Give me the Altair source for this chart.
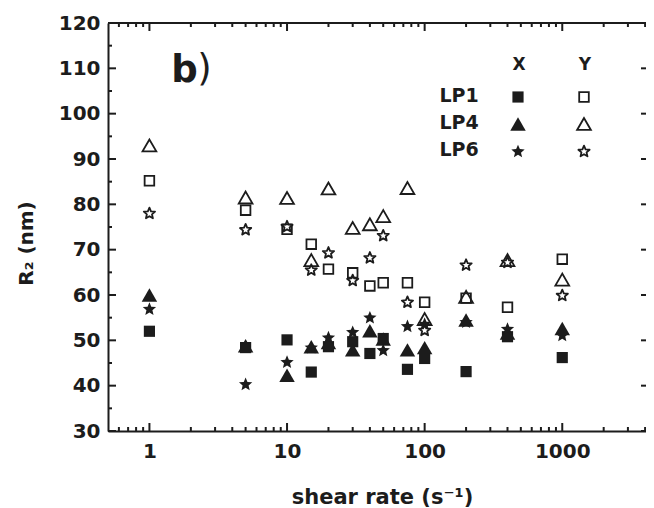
import altair as alt
import pandas as pd

# ---------------- data ----------------
rates = [1, 5, 10, 15, 20, 30, 40, 50, 75, 100, 200, 400, 1000]
samples = ["LP1", "LP4", "LP6"]
directions = ["X", "Y"]

lp1_x = [52.0, 48.4, 50.1, 43.0, 48.6, 49.7, 47.1, 50.4, 43.6, 46.0, 43.1, 50.8, 46.2]
lp1_y = [85.2, 78.7, 74.5, 71.2, 65.7, 64.9, 62.0, 62.7, 62.7, 58.4, 59.3, 57.3, 67.9]
lp4_x = [60.0, 48.8, 42.3, 48.6, 49.5, 47.9, 52.1, 50.3, 47.9, 48.4, 54.5, 51.6, 52.6]
lp4_y = [93.0, 81.5, 81.4, 67.7, 83.5, 74.8, 75.6, 77.4, 83.6, 54.7, 59.6, 67.7, 63.4]
lp6_x = [57.0, 40.4, 45.3, 48.5, 50.7, 51.9, 55.1, 47.9, 53.2, 53.7, 54.1, 52.6, 51.2]
lp6_y = [78.1, 74.5, 75.2, 65.6, 69.4, 63.3, 68.3, 73.2, 58.5, 52.3, 66.7, 67.3, 60.0]

x_major = [1, 10, 100, 1000]
x_minor = [0.6, 0.7, 0.8, 0.9, 2, 3, 4, 5, 6, 7, 8, 9, 20, 30, 40, 50, 60, 70, 80, 90,
           200, 300, 400, 500, 600, 700, 800, 900, 2000, 3000, 4000]
y_major = [30, 40, 50, 60, 70, 80, 90, 100, 110, 120]
y_minor = [35, 45, 55, 65, 75, 85, 95, 105, 115]
panel_label = ["b", ")"]

series = {
    ("LP1", "X"): lp1_x, ("LP1", "Y"): lp1_y,
    ("LP4", "X"): lp4_x, ("LP4", "Y"): lp4_y,
    ("LP6", "X"): lp6_x, ("LP6", "Y"): lp6_y,
}
rows = []
for (s, d), vals in series.items():
    for r, v in zip(rates, vals):
        rows.append({"rate": r, "R2": v, "sample": s, "dir": d})
df = pd.DataFrame(rows)

# ---------------- styling ----------------
W, H = 538, 408
INK = "#1c1c1c"
FONT = "DejaVu Sans"
STAR = ("M0,-0.9045L0.2645,-0.2685L0.951,-0.2135L0.428,0.2345L0.588,0.9045L0,0.5455"
        "L-0.588,0.9045L-0.428,0.2345L-0.951,-0.2135L-0.2645,-0.2685Z")
shape_of = {"LP1": "square", "LP4": "triangle-up", "LP6": STAR}
size_filled = {"LP1": 125, "LP4": 240, "LP6": 196}
size_open = {"LP1": 92, "LP4": 190, "LP6": 140}

xs = alt.Scale(type="log", domain=[0.5, 4060], nice=False)
ys = alt.Scale(domain=[30, 120], nice=False, zero=False)

xaxis = alt.Axis(values=x_major, format="d", ticks=False, tickSize=0, grid=False,
                 domain=True, domainColor=INK, domainWidth=2,
                 labelFont=FONT, labelFontWeight="bold", labelFontSize=20,
                 labelColor=INK, labelPadding=10,
                 title="shear rate (s⁻¹)", titleFont=FONT, titleFontWeight="bold",
                 titleFontSize=21, titleColor=INK, titleY=72, titleX=274,
                 titleBaseline="alphabetic")
yaxis = alt.Axis(values=y_major, ticks=False, tickSize=0, grid=False,
                 domain=True, domainColor=INK, domainWidth=2,
                 labelFont=FONT, labelFontWeight="bold", labelFontSize=20,
                 labelColor=INK, labelPadding=8,
                 title="R₂ (nm)", titleFont=FONT, titleFontWeight="bold",
                 titleFontSize=20, titleColor=INK, titleAngle=270,
                 titleX=-82, titleY=220, titleAlign="center",
                 titleBaseline="middle")


def X(field):
    return alt.X(f"{field}:Q", scale=xs, axis=xaxis)


def Y(field):
    return alt.Y(f"{field}:Q", scale=ys, axis=yaxis)


layers = []

# data points
for s in samples:
    for d in directions:
        filled = d == "X"
        base = alt.Chart(df).transform_filter(
            (alt.datum.sample == s) & (alt.datum.dir == d))
        if filled:
            m = base.mark_point(shape=shape_of[s], filled=True, fill=INK,
                                size=size_filled[s], opacity=1, strokeWidth=0)
        else:
            m = base.mark_point(shape=shape_of[s], filled=False, stroke=INK,
                                size=size_open[s], opacity=1, strokeWidth=1.8,
                                strokeJoin="round" if s == "LP6" else "miter")
        layers.append(m.encode(x=X("rate"), y=Y("R2")))

# inward axis ticks (bottom / top / left / right)
xmaj = pd.DataFrame({"t": x_major})
xmin = pd.DataFrame({"t": x_minor})
ymaj = pd.DataFrame({"t": y_major})
ymin = pd.DataFrame({"t": y_minor})
tick = dict(color=INK, strokeWidth=2)
layers += [
    alt.Chart(xmaj).mark_rule(**tick).encode(x=X("t"), y=alt.value(H), y2=alt.value(H - 8)),
    alt.Chart(xmin).mark_rule(**tick).encode(x=X("t"), y=alt.value(H), y2=alt.value(H - 4)),
    alt.Chart(xmaj).mark_rule(**tick).encode(x=X("t"), y=alt.value(0), y2=alt.value(8)),
    alt.Chart(xmin).mark_rule(**tick).encode(x=X("t"), y=alt.value(0), y2=alt.value(4)),
    alt.Chart(ymaj).mark_rule(**tick).encode(y=Y("t"), x=alt.value(0), x2=alt.value(8)),
    alt.Chart(ymin).mark_rule(**tick).encode(y=Y("t"), x=alt.value(0), x2=alt.value(4)),
    alt.Chart(ymaj).mark_rule(**tick).encode(y=Y("t"), x=alt.value(W - 5), x2=alt.value(W)),
    # top frame line
    alt.Chart(pd.DataFrame({"t": [0]})).mark_rule(**tick).encode(
        x=alt.value(0), x2=alt.value(W), y=alt.value(0)),
]

# panel label "b)"
layers.append(alt.Chart(pd.DataFrame({"t": [panel_label[0]]})).mark_text(
    font=FONT, fontWeight="bold", fontSize=37, color=INK, align="center",
    baseline="alphabetic").encode(text="t:N", x=alt.value(76.5), y=alt.value(59)))
layers.append(alt.Chart(pd.DataFrame({"t": [panel_label[1]]})).mark_text(
    font=FONT, fontWeight="normal", fontSize=37, color=INK, align="center",
    baseline="alphabetic").encode(text="t:N", x=alt.value(96.5), y=alt.value(58)))

# custom legend (row label, filled X symbol, open Y symbol)
col_x = {"X": 410, "Y": 476}
for d in directions:
    layers.append(alt.Chart(pd.DataFrame({"t": [d]})).mark_text(
        font=FONT, fontWeight="bold", fontSize=17, color=INK, align="center",
        baseline="middle").encode(text="t:N", x=alt.value(col_x[d] + 1), y=alt.value(42)))
for i, s in enumerate(samples):
    yrow = 73 + i * 27
    one = pd.DataFrame({"t": [s]})
    layers.append(alt.Chart(one).mark_text(
        font=FONT, fontWeight="bold", fontSize=19, color=INK, align="center",
        baseline="middle").encode(text="t:N", x=alt.value(351), y=alt.value(yrow)))
    layers.append(alt.Chart(one).mark_point(
        shape=shape_of[s], filled=True, fill=INK, size=size_filled[s], opacity=1,
        strokeWidth=0).encode(x=alt.value(col_x["X"]), y=alt.value(yrow + 1)))
    layers.append(alt.Chart(one).mark_point(
        shape=shape_of[s], filled=False, stroke=INK, size=size_open[s], opacity=1,
        strokeWidth=1.8, strokeJoin="round" if s == "LP6" else "miter").encode(
        x=alt.value(col_x["Y"]), y=alt.value(yrow + 1)))

chart = alt.layer(*layers).properties(
    width=W, height=H,
    autosize=alt.AutoSizeParams(type="none"),
    padding={"left": 100, "top": 15, "right": 0, "bottom": 77},
    background="white",
).configure_view(stroke=None)

chart.save("out.html", embed_options={"renderer": "svg", "actions": False})
